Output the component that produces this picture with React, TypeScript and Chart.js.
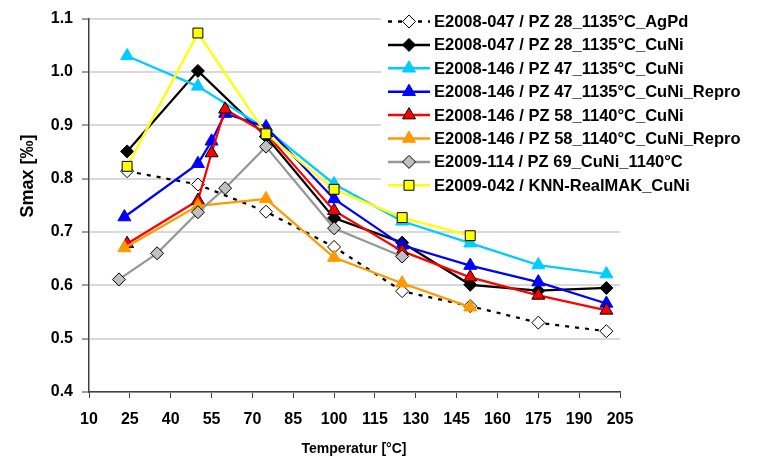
import React, { useEffect, useRef } from 'react';
import { Chart, registerables } from 'chart.js';

Chart.register(...registerables);

// ---- Data ----
const seriesNames = [
  'E2008-047 / PZ 28_1135°C_AgPd',
  'E2008-047 / PZ 28_1135°C_CuNi',
  'E2008-146 / PZ 47_1135°C_CuNi',
  'E2008-146 / PZ 47_1135°C_CuNi_Repro',
  'E2008-146 / PZ 58_1140°C_CuNi',
  'E2008-146 / PZ 58_1140°C_CuNi_Repro',
  'E2009-114 / PZ 69_CuNi_1140°C',
  'E2009-042 / KNN-RealMAK_CuNi',
];

const agpdT = [24, 50, 75, 100, 125, 150, 175, 200];
const agpdS = [0.814, 0.789, 0.738, 0.672, 0.589, 0.561, 0.53, 0.514];

const cuniT = [24, 50, 75, 100, 125, 150, 175, 200];
const cuniS = [0.851, 1.002, 0.879, 0.726, 0.68, 0.601, 0.59, 0.595];

const pz47T = [24, 50, 75, 100, 125, 150, 175, 200];
const pz47S = [1.03, 0.973, 0.893, 0.79, 0.72, 0.679, 0.638, 0.621];

const pz47rT = [23, 50, 55, 60, 75, 100, 125, 150, 175, 200];
const pz47rS = [0.728, 0.828, 0.87, 0.922, 0.897, 0.762, 0.675, 0.637, 0.606, 0.566];

const pz58T = [24, 50, 55, 60, 75, 100, 125, 150, 175, 200];
const pz58S = [0.678, 0.759, 0.848, 0.93, 0.885, 0.74, 0.664, 0.615, 0.581, 0.553];

const pz58rT = [23, 50, 75, 100, 125, 150];
const pz58rS = [0.67, 0.749, 0.762, 0.652, 0.604, 0.559];

const pz69T = [21, 35, 50, 60, 75, 100, 125];
const pz69S = [0.611, 0.66, 0.737, 0.782, 0.86, 0.707, 0.654];

const knnT = [24, 50, 75, 100, 125, 150];
const knnS = [0.823, 1.073, 0.884, 0.78, 0.727, 0.693];

const seriesT = [agpdT, cuniT, pz47T, pz47rT, pz58T, pz58rT, pz69T, knnT];
const seriesS = [agpdS, cuniS, pz47S, pz47rS, pz58S, pz58rS, pz69S, knnS];

const xTitle = 'Temperatur [°C]';
const yTitle = 'Smax [‰]';

// ---- Styles ----
type Style = {
  line: string;
  fill: string;
  border: string;
  shape: 'diamond' | 'triangle' | 'square';
  dash?: number[];
};

const styles: Style[] = [
  { line: '#000000', fill: '#ffffff', border: '#000000', shape: 'diamond', dash: [4, 6] },
  { line: '#000000', fill: '#000000', border: '#000000', shape: 'diamond' },
  { line: '#00ccff', fill: '#00ccff', border: '#00ccff', shape: 'triangle' },
  { line: '#0000ff', fill: '#0000ff', border: '#0000ff', shape: 'triangle' },
  { line: '#ff0000', fill: '#ff0000', border: '#000000', shape: 'triangle' },
  { line: '#ff9900', fill: '#ff9900', border: '#ff9900', shape: 'triangle' },
  { line: '#969696', fill: '#c0c0c0', border: '#000000', shape: 'diamond' },
  { line: '#ffff00', fill: '#ffff00', border: '#000000', shape: 'square' },
];

const pointStyleOf = (s: Style) =>
  s.shape === 'diamond' ? 'rectRot' : s.shape === 'triangle' ? 'triangle' : 'rect';
const radiusOf = (s: Style) => (s.shape === 'diamond' ? 6.5 : s.shape === 'triangle' ? 7.5 : 7);

const FONT = 'Arial, "Liberation Sans", sans-serif';

function drawMarker(ctx: CanvasRenderingContext2D, s: Style, x: number, y: number) {
  const r = radiusOf(s);
  ctx.beginPath();
  if (s.shape === 'diamond') {
    ctx.moveTo(x, y - r);
    ctx.lineTo(x + r, y);
    ctx.lineTo(x, y + r);
    ctx.lineTo(x - r, y);
  } else if (s.shape === 'triangle') {
    const a = -Math.PI / 2;
    for (let k = 0; k < 3; k++) {
      const ang = a + (k * 2 * Math.PI) / 3;
      const px = x + Math.cos(ang) * r;
      const py = y + Math.sin(ang) * r;
      if (k === 0) ctx.moveTo(px, py);
      else ctx.lineTo(px, py);
    }
  } else {
    const h = r * Math.SQRT1_2;
    ctx.rect(x - h, y - h, 2 * h, 2 * h);
  }
  ctx.closePath();
  ctx.fillStyle = s.fill;
  ctx.fill();
  ctx.lineWidth = 1;
  ctx.strokeStyle = s.border;
  ctx.stroke();
}

const legendPlugin = {
  id: 'customLegend',
  afterDraw(chart: any) {
    const ctx: CanvasRenderingContext2D = chart.ctx;
    ctx.save();
    // legend background
    ctx.fillStyle = '#ffffff';
    ctx.fillRect(381, 4, 377, 196);
    seriesNames.forEach((name, i) => {
      const s = styles[i];
      const y = 21.5 + i * 23.4;
      ctx.beginPath();
      ctx.setLineDash(s.dash || []);
      ctx.lineWidth = 2.5;
      ctx.strokeStyle = s.line;
      ctx.moveTo(388, y);
      ctx.lineTo(430, y);
      ctx.stroke();
      ctx.setLineDash([]);
      drawMarker(ctx, s, 409, y);
      ctx.fillStyle = '#000000';
      ctx.font = `bold 16.5px ${FONT}`;
      ctx.textAlign = 'left';
      ctx.textBaseline = 'middle';
      ctx.fillText(name, 434, y + 1);
    });
    // axis titles
    ctx.fillStyle = '#000000';
    ctx.font = `bold 14px ${FONT}`;
    ctx.textAlign = 'center';
    ctx.textBaseline = 'middle';
    ctx.fillText(xTitle, 354, 449);
    ctx.save();
    ctx.translate(28, 176);
    ctx.rotate(-Math.PI / 2);
    ctx.font = `bold 18px ${FONT}`;
    ctx.fillText(yTitle, 0, 0);
    ctx.restore();
    ctx.restore();
  },
};

export default function App() {
  const ref = useRef<HTMLCanvasElement>(null);

  useEffect(() => {
    if (!ref.current) return;
    const datasets = seriesNames.map((name, i) => {
      const s = styles[i];
      return {
        label: name,
        data: seriesT[i].map((t, k) => ({ x: t, y: seriesS[i][k] })),
        borderColor: s.line,
        borderWidth: 2.25,
        borderDash: s.dash || [],
        backgroundColor: s.fill,
        pointStyle: pointStyleOf(s),
        pointRadius: radiusOf(s),
        pointHoverRadius: radiusOf(s),
        pointBackgroundColor: s.fill,
        pointBorderColor: s.border,
        pointBorderWidth: 1,
        fill: false,
        tension: 0,
        order: seriesNames.length - i,
      };
    });

    const chart = new Chart(ref.current, {
      type: 'line',
      data: { datasets },
      plugins: [legendPlugin],
      options: {
        responsive: false,
        animation: false,
        layout: { padding: { left: 0, top: 14, right: 138, bottom: 0 } },
        plugins: {
          legend: { display: false },
          tooltip: { enabled: false },
          title: { display: false },
        },
        scales: {
          x: {
            type: 'linear',
            min: 10,
            max: 205,
            afterFit: (scale: any) => {
              scale.height = 66;
            },
            ticks: {
              stepSize: 15,
              autoSkip: false,
              maxRotation: 0,
              padding: 12,
              color: '#000000',
              font: { family: FONT, size: 16, weight: 'bold' },
            },
            grid: {
              drawOnChartArea: false,
              drawTicks: true,
              tickLength: 6,
              tickColor: '#404040',
              tickWidth: 1,
            },
            border: { color: '#404040', width: 1.5 },
          },
          y: {
            type: 'linear',
            min: 0.4,
            max: 1.1,
            afterFit: (scale: any) => {
              scale.width = 89;
            },
            ticks: {
              stepSize: 0.1,
              padding: 9,
              color: '#000000',
              font: { family: FONT, size: 16, weight: 'bold' },
              callback: (v: any) => Number(v).toFixed(1),
            },
            grid: {
              color: '#d9d9d9',
              lineWidth: 2,
              drawTicks: true,
              tickLength: 7,
              tickColor: '#404040',
              tickWidth: 1,
            },
            border: { color: '#404040', width: 1.5 },
          },
        },
      },
    } as any);

    return () => chart.destroy();
  }, []);

  return (
    <div style={{ position: 'absolute', left: 0, top: 0, width: 758, height: 458, background: '#ffffff' }}>
      <canvas ref={ref} width={758} height={458} style={{ display: 'block' }} />
    </div>
  );
}
